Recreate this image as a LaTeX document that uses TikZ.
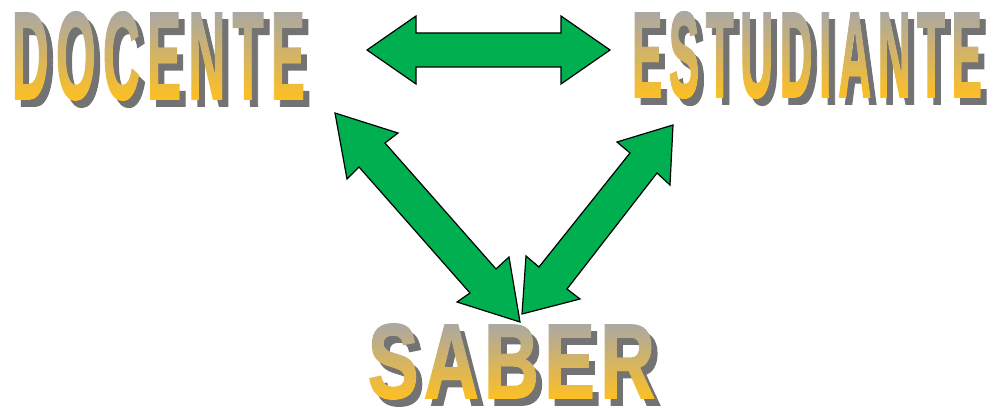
\documentclass[tikz,border=0pt]{standalone}
\usepackage{fontspec}
\usepackage{graphicx}
\usetikzlibrary{fadings}
\newfontfamily\wafont{Liberation Sans}[BoldFont=* Bold, BoldFeatures={FakeBold=1.8}]
\definecolor{arrowgreen}{RGB}{0,176,80}
\definecolor{shadowgray}{RGB}{115,115,115}
\definecolor{topgray}{RGB}{170,168,165}
\definecolor{botgold}{RGB}{255,192,32}
\newcommand{\wordbox}[3]{\resizebox*{#2}{#3}{\wafont\bfseries #1}}
\newcommand{\lkw}{\kern0.14em}
\newcommand{\lks}{\kern0.07em}
\newcommand{\wdoc}{D\lkw O\lkw C\lkw E\lkw N\lkw T\lkw E}
\newcommand{\west}{E\lkw S\lkw T\lkw U\lkw D\lkw I\lkw A\lkw N\lkw T\lkw E}
\newcommand{\wsab}{S\lks A\lks B\lks E\lks R}
\begin{tikzfadingfrompicture}[name=fdocente]
\node[text=transparent!0, inner sep=0pt] {\wordbox{\wdoc}{293pt}{88pt}};
\end{tikzfadingfrompicture}
\begin{tikzfadingfrompicture}[name=festudiante]
\node[text=transparent!0, inner sep=0pt] {\wordbox{\west}{350pt}{86pt}};
\end{tikzfadingfrompicture}
\begin{tikzfadingfrompicture}[name=fsaber]
\node[text=transparent!0, inner sep=0pt] {\wordbox{\wsab}{287pt}{75pt}};
\end{tikzfadingfrompicture}
\begin{document}
\begin{tikzpicture}[x=1pt,y=-1pt,
  shadowtext/.style={text=shadowgray, inner sep=0pt},
  gradfill/.style={top color=topgray, bottom color=botgold, fit fading=false},
  blockarrow/.style={fill=arrowgreen, draw=black, line width=1.2pt, line join=miter}]
\useasboundingbox (0,0) rectangle (993,411);
% shadows
\node[shadowtext] (docshadow) at (164.5,63) {\wordbox{\wdoc}{293pt}{88pt}};
\node[shadowtext] (estshadow) at (813,62) {\wordbox{\west}{350pt}{86pt}};
\node[shadowtext] (sabshadow) at (517.5,368.5) {\wordbox{\wsab}{287pt}{75pt}};
% gradient fronts
\begin{scope}[transform canvas={shift={(158.5,56)}}]
\shade[gradfill, path fading=fdocente] (-150,-45) rectangle (150,45);
\end{scope}
\begin{scope}[transform canvas={shift={(807,55)}}]
\shade[gradfill, path fading=festudiante] (-178,-44) rectangle (178,44);
\end{scope}
\begin{scope}[transform canvas={shift={(511.5,361.5)}}]
\shade[gradfill, path fading=fsaber] (-146,-39) rectangle (146,39);
\end{scope}
% arrows
\draw[blockarrow] (367,50) -- (416,16) -- (416,33) -- (561,33) -- (561,16) -- (610,50)
  -- (561,84) -- (561,67) -- (416,67) -- (416,84) -- cycle;
\draw[blockarrow] (335,113) -- (398,133) -- (385,143) -- (496,269) -- (509,257) -- (520,322)
  -- (457,302) -- (470,293) -- (359,167) -- (347,179) -- cycle;
\draw[blockarrow] (673,125) -- (670,185) -- (657,173) -- (567,289) -- (580,299) -- (522,314)
  -- (526,256) -- (539,267) -- (630,153) -- (617,142) -- cycle;
\end{tikzpicture}
\end{document}
